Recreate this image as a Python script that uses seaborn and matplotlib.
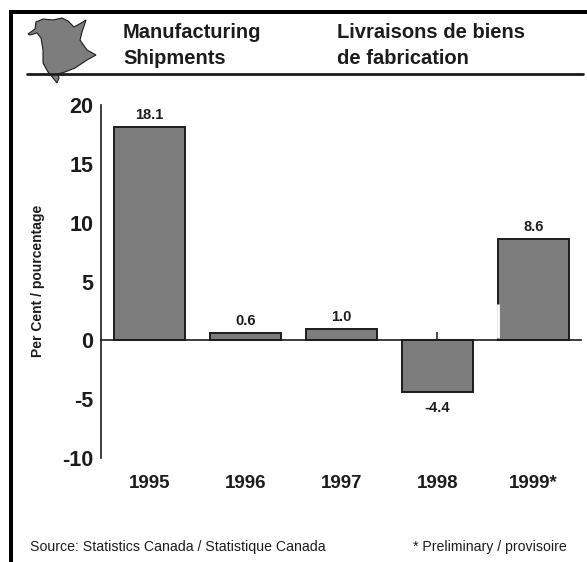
import matplotlib
matplotlib.use("Agg")
import matplotlib.pyplot as plt
from matplotlib.patches import Polygon, Rectangle
from matplotlib.lines import Line2D
import pandas as pd
import seaborn as sns

years = ["1995", "1996", "1997", "1998", "1999*"]
values = [18.1, 0.6, 1.0, -4.4, 8.6]
value_labels = ["18.1", "0.6", "1.0", "-4.4", "8.6"]
y_ticks = [-10, -5, 0, 5, 10, 15, 20]

W, H = 587, 562
sns.set_theme(style="white")
plt.rcParams["font.family"] = ["Liberation Sans", "DejaVu Sans"]

fig = plt.figure(figsize=(W / 100, H / 100), dpi=100)
ax = fig.add_axes([100.5 / W, 1 - 458 / H, (581 - 100.5) / W, (458 - 105) / H])
INK = "#1c1c1c"

def fx(x):
    return x / W

def fy(y):
    return 1 - y / H

df = pd.DataFrame({"year": years, "value": values})
sns.barplot(data=df, x="year", y="value", color="#7d7d7d", saturation=1, width=0.74,
            edgecolor=INK, linewidth=1.4, ax=ax, zorder=2)

ax.set_xlim(-0.51, 4.495)
ax.set_ylim(-10, 20)
ax.set_xlabel("")
ax.set_ylabel("")
ax.set_facecolor("none")
for s in ("top", "right"):
    ax.spines[s].set_visible(False)
ax.spines["bottom"].set_position(("data", 0))
ax.spines["bottom"].set_color(INK)
ax.spines["bottom"].set_linewidth(1.2)
ax.spines["bottom"].set_zorder(3)
ax.spines["left"].set_color(INK)
ax.spines["left"].set_linewidth(1.2)

ax.set_axisbelow(True)
ax.set_yticks(y_ticks)
ax.set_yticklabels([str(t) for t in y_ticks], fontsize=15.5, color=INK, fontweight="bold")
ax.tick_params(axis="y", length=0, pad=5)
ax.set_xticks(range(len(years)))
ax.set_xticklabels(years, fontsize=13.5, color=INK, fontweight="bold")
ax.tick_params(axis="x", direction="in", length=6, width=1.1, color=INK, pad=97, bottom=True)

for i, (v, lab) in enumerate(zip(values, value_labels)):
    off = 8.6 if v >= 0 else -11.5
    ax.annotate(lab, (i, v), xytext=(0, off), textcoords="offset points",
                ha="center", va="center", fontsize=10.5, color=INK, fontweight="bold")

# Gap in the left edge of the last bar
last = ax.patches[-1]
ax.vlines(last.get_x(), 0.2, 3.1, color="white", linewidth=2.0, zorder=4)

# Page furniture: frame, header rule, province silhouette
fig.add_artist(Rectangle((fx(9), fy(562)), 4 / W, 549 / H, transform=fig.transFigure, color="black", lw=0))
fig.add_artist(Rectangle((fx(9), fy(13.5)), (W - 9) / W, 3.5 / H, transform=fig.transFigure, color="black", lw=0))
fig.add_artist(Line2D([fx(27), fx(583)], [fy(74), fy(74)], transform=fig.transFigure, color=INK, lw=2.0))
outline = [(28, 34), (35, 29), (36, 22), (43, 19), (53, 20), (62, 18), (68, 21), (74, 27),
           (83, 22), (86, 20), (82, 32), (80, 40), (87, 50), (96, 55), (87, 60), (75, 68),
           (65, 72), (58, 74), (59, 78), (57, 83), (53, 78), (48, 72), (43, 63), (43, 50),
           (41, 38), (37, 33), (30, 35)]
fig.add_artist(Polygon([(fx(x), fy(y)) for x, y in outline], closed=True, transform=fig.transFigure,
                       facecolor="#7d7d7d", edgecolor=INK, lw=0.8))

def page_text(x, y, s, **kw):
    fig.text(fx(x), fy(y), s, color=INK, va="center", **kw)

page_text(123, 33, "Manufacturing", fontsize=14.5, fontweight="bold")
page_text(123, 59, "Shipments", fontsize=14.5, fontweight="bold")
page_text(337, 33, "Livraisons de biens", fontsize=14.5, fontweight="bold")
page_text(337, 59, "de fabrication", fontsize=14.5, fontweight="bold")
page_text(38, 281, "Per Cent / pourcentage", fontsize=10, rotation=90, ha="center", fontweight="bold")
page_text(30, 547, "Source: Statistics Canada / Statistique Canada", fontsize=10.2)
page_text(413, 547, "* Preliminary / provisoire", fontsize=10.2)

fig.savefig("out.png", dpi=100)
